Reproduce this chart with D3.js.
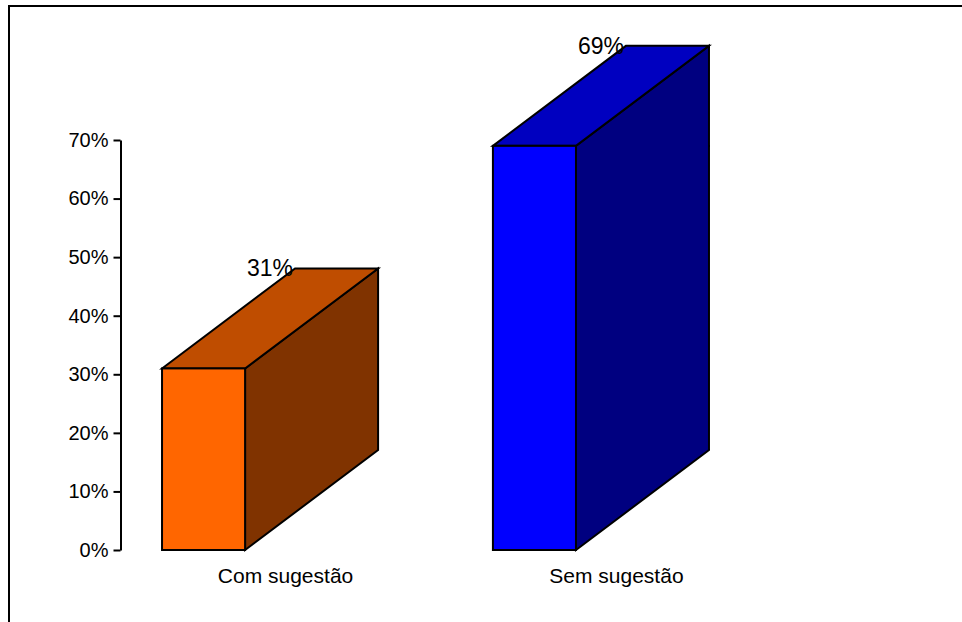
<!DOCTYPE html>
<html>
<head>
<meta charset="utf-8">
<script src="https://cdn.jsdelivr.net/npm/d3@7"></script>
<style>
  html, body { margin: 0; padding: 0; background: #fff; }
  svg { display: block; font-family: "Liberation Sans", Arial, sans-serif; }
</style>
</head>
<body>
<svg id="chart" width="962" height="622"></svg>
<script>
// Survey answers: share of responses with and without a suggestion
const categories = ["Com sugestão", "Sem sugestão"];
const values = [0.31, 0.69];
const valueLabels = ["31%", "69%"];
const yTicks = [0, 0.1, 0.2, 0.3, 0.4, 0.5, 0.6, 0.7];

// Face colours per bar: front, top, side
const frontColors = ["#FF6600", "#0000FF"];
const topColors = ["#BF4D00", "#0000C0"];
const sideColors = ["#803300", "#000080"];

const svg = d3.select("#chart");

// Outer frame
svg.append("rect")
  .attr("x", 9).attr("y", 6)
  .attr("width", 1200).attr("height", 1200)
  .attr("fill", "none").attr("stroke", "#000").attr("stroke-width", 2);

const y = d3.scaleLinear().domain([0, 0.7]).range([550, 140]);
const x = d3.scaleBand().domain(categories)
  .range([121, 617]).paddingInner(0.749).paddingOuter(0.124);

// 3D depth offset of each box
const depthX = 133, depthY = -100;

// Value axis
const axis = d3.axisLeft(y)
  .tickValues(yTicks)
  .tickFormat(d3.format(".0%"))
  .tickSize(7).tickSizeOuter(0).tickPadding(5);

const gAxis = svg.append("g")
  .attr("transform", "translate(120.5,0)")
  .call(axis);
gAxis.select(".domain").attr("stroke", "#000").attr("stroke-width", 2);
gAxis.selectAll(".tick line").attr("stroke", "#000").attr("stroke-width", 2);
gAxis.selectAll(".tick text")
  .attr("fill", "#000")
  .style("font-size", "20px")
  .style("font-family", "'Liberation Sans', Arial, sans-serif");

const bars = svg.append("g").selectAll("g")
  .data(categories.map((c, i) => ({ c, v: values[i], i })))
  .join("g");

const stroke = { stroke: "#000", "stroke-width": 2, "stroke-linejoin": "miter" };

// Side face
bars.append("path")
  .attr("d", d => {
    const x1 = x(d.c) + x.bandwidth(), y0 = y(0), yv = y(d.v);
    return `M${x1},${y0}L${x1 + depthX},${y0 + depthY}L${x1 + depthX},${yv + depthY}L${x1},${yv}Z`;
  })
  .attr("fill", d => sideColors[d.i])
  .attr("stroke", stroke.stroke).attr("stroke-width", stroke["stroke-width"]);

// Top face
bars.append("path")
  .attr("d", d => {
    const x0 = x(d.c), x1 = x0 + x.bandwidth(), yv = y(d.v);
    return `M${x0},${yv}L${x0 + depthX},${yv + depthY}L${x1 + depthX},${yv + depthY}L${x1},${yv}Z`;
  })
  .attr("fill", d => topColors[d.i])
  .attr("stroke", stroke.stroke).attr("stroke-width", stroke["stroke-width"]);

// Front face
bars.append("rect")
  .attr("x", d => x(d.c))
  .attr("y", d => y(d.v))
  .attr("width", x.bandwidth())
  .attr("height", d => y(0) - y(d.v))
  .attr("fill", d => frontColors[d.i])
  .attr("stroke", stroke.stroke).attr("stroke-width", stroke["stroke-width"]);

// Value labels at the back edge of each top face
bars.append("text")
  .attr("x", d => x(d.c) + x.bandwidth() / 2 + depthX / 2)
  .attr("y", d => y(d.v) + depthY + 8)
  .attr("text-anchor", "middle")
  .attr("fill", "#000")
  .style("font-size", "23px")
  .text(d => valueLabels[d.i]);

// Category labels
svg.append("g").selectAll("text")
  .data(categories)
  .join("text")
  .attr("x", c => x(c) + x.bandwidth() / 2 + 82)
  .attr("y", 583)
  .attr("text-anchor", "middle")
  .attr("fill", "#000")
  .style("font-size", "21px")
  .text(c => c);
</script>
</body>
</html>
